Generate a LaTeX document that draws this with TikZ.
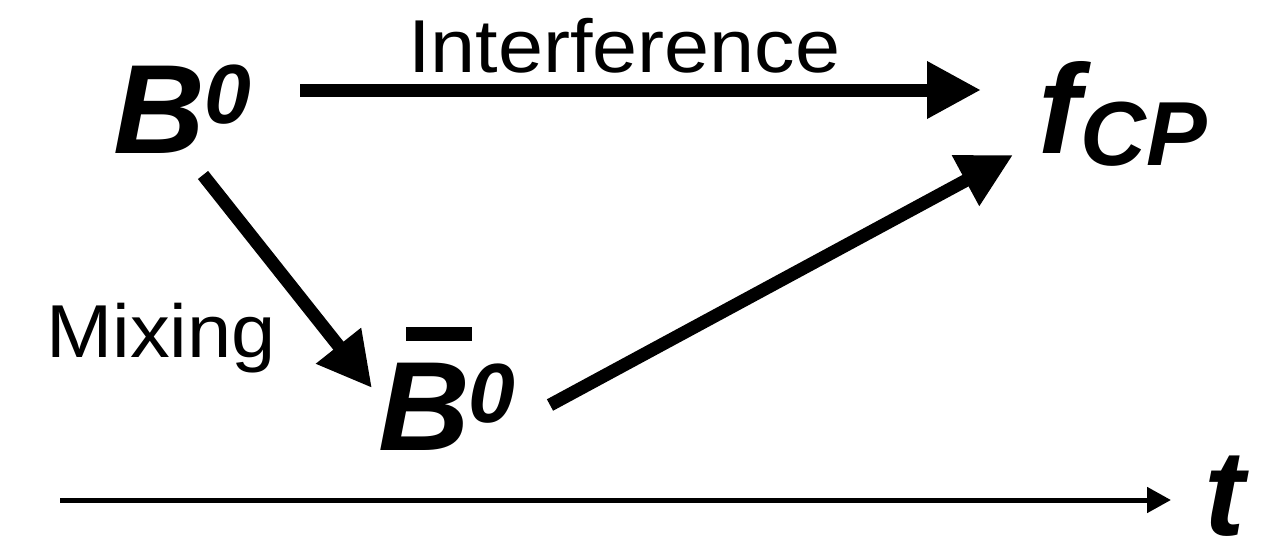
\documentclass[tikz,border=0pt]{standalone}
\usepackage{fontspec}
\setmainfont{Liberation Sans}
\usetikzlibrary{arrows.meta}
\tikzset{
  big/.style={inner sep=0pt, anchor=base west, font=\fontsize{127}{127}\selectfont\bfseries\itshape},
  lab/.style={inner sep=0pt, anchor=base west, font=\fontsize{75}{75}\selectfont},
  fatarrow/.style={line width=13pt, -{Triangle[length=54pt,width=54pt]}},
  axisarrow/.style={line width=5pt, -{Triangle[length=24pt,width=25pt]}},
}
\newcommand{\supz}{\fontsize{84}{84}\selectfont 0}
\begin{document}
\begin{tikzpicture}[x=1pt,y=-1pt]
\useasboundingbox (0,0) rectangle (1281,549);
% labels
\node[big] (B) at (113,153) {B\hspace{0pt}\raisebox{30pt}{\supz}};
\node[big] (Bb) at (378,450) {\rlap{\hspace*{28pt}\raisebox{109pt}{\rule{66pt}{14pt}}}B\hspace{-1pt}\raisebox{28pt}{\supz}};
\node[big] (f) at (1038,153) {f\raisebox{-12pt}{\fontsize{91}{91}\selectfont CP}};
\node[big, font=\fontsize{122}{122}\selectfont\bfseries\itshape] (t) at (1204,535) {t};
\node[lab] (int) at (408,72) {\scalebox{1.08}[1]{Interference}};
\node[lab] (mix) at (46,357) {\scalebox{1.06}[1]{Mixing}};
% connector endpoints
\coordinate (a1s) at (300,90);
\coordinate (a1e) at (981,90);
\coordinate (a2s) at (203,175);
\coordinate (a2e) at (372,388);
\coordinate (a3s) at (550,405);
\coordinate (a3e) at (1013,155);
\coordinate (ts) at (60,500);
\coordinate (te) at (1171,500);
\draw[fatarrow] (a1s) -- (a1e);
\draw[fatarrow] (a2s) -- (a2e);
\draw[fatarrow] (a3s) -- (a3e);
\draw[axisarrow] (ts) -- (te);
\end{tikzpicture}
\end{document}
